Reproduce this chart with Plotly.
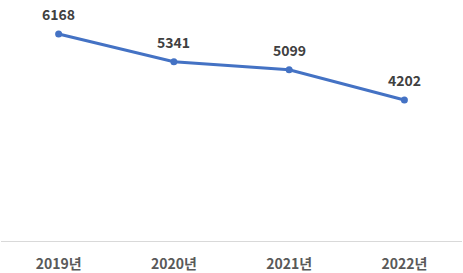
import plotly.graph_objects as go

years = ["2019년", "2020년", "2021년", "2022년"]
values = [6168, 5341, 5099, 4202]

fig = go.Figure()
fig.add_trace(go.Scatter(
    x=years, y=values, mode="lines+markers",
    line=dict(color="#4472C4", width=3),
    marker=dict(color="#4472C4", size=7),
    hoverinfo="skip",
))
for xv, yv in zip(years, values):
    fig.add_annotation(x=xv, y=yv, text=str(yv), showarrow=False,
                       yshift=20, font=dict(family="Noto Sans CJK KR", size=14, color="#404040", weight="bold"))

fig.update_layout(
    width=463, height=273,
    margin=dict(l=1, r=1, t=6, b=32),
    paper_bgcolor="white", plot_bgcolor="white",
    showlegend=False,
    font=dict(family="Noto Sans CJK KR", size=14, color="#595959"),
    xaxis=dict(type="category", range=[-0.5, 3.5], showline=True, linecolor="#D9D9D9",
               linewidth=1, showgrid=False, zeroline=False, ticks="", ticklabelstandoff=10,
               tickfont=dict(family="Noto Sans CJK KR", size=14, color="#595959", weight="bold")),
    yaxis=dict(range=[0, 7000], visible=False, showgrid=False, zeroline=False),
)
fig.write_html("out.html")
